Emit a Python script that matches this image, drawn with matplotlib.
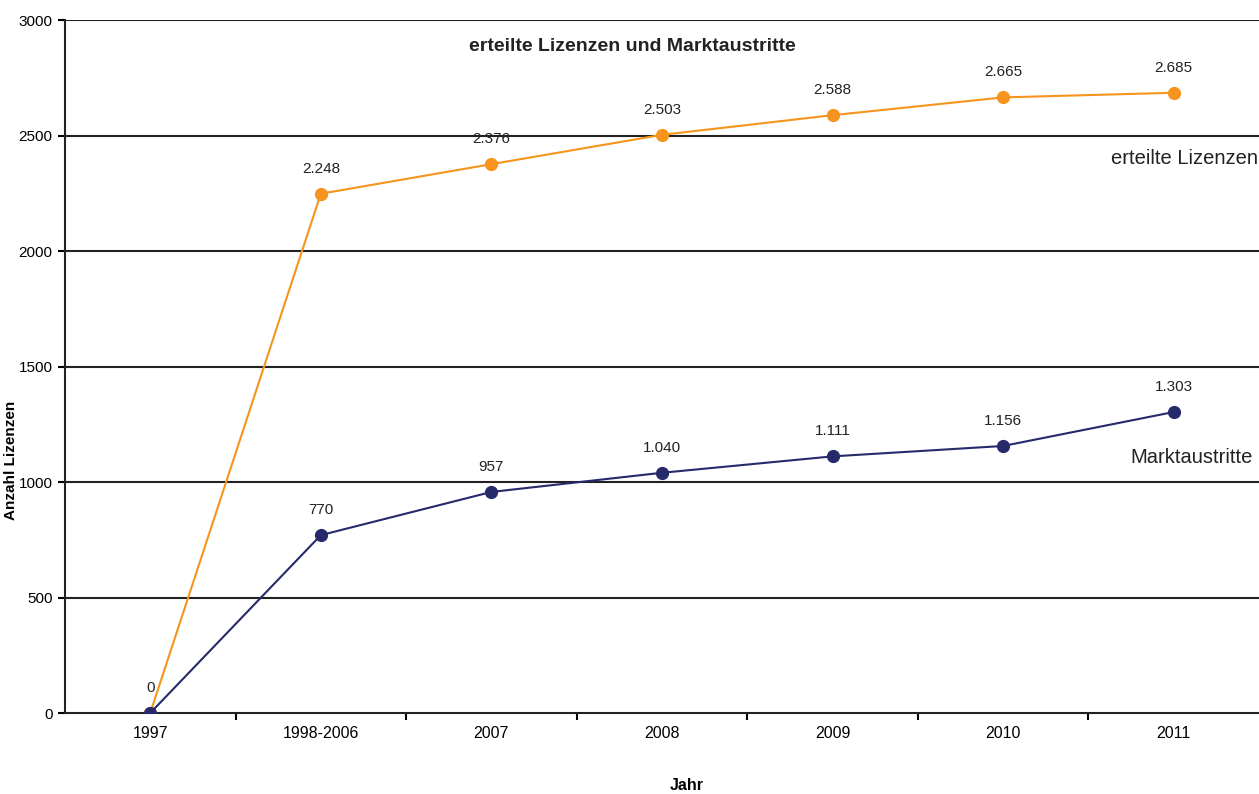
import matplotlib.pyplot as plt
import numpy as np

jahre = ['1997', '1998-2006', '2007', '2008', '2009', '2010', '2011']
lizenzen = [0, 2248, 2376, 2503, 2588, 2665, 2685]
austritte = [0, 770, 957, 1040, 1111, 1156, 1303]

orange = '#F7941D'
navy = '#262A6B'


def fmt(v):
    return f'{v:,}'.replace(',', '.')


plt.rcParams['font.family'] = ['Liberation Sans', 'DejaVu Sans']
fig = plt.figure(figsize=(12.59, 7.94), dpi=100)
ax = fig.add_axes([0.0516, 0.102, 0.9484, 0.8728])

x = np.arange(len(jahre))
for v in [500, 1000, 1500, 2000, 2500, 3000]:
    ax.axhline(v, color='#222222', lw=1.5, zorder=1)

ax.plot(x, lizenzen, color=orange, lw=1.5, marker='o', ms=8.5, zorder=3)
ax.plot(x, austritte, color=navy, lw=1.5, marker='o', ms=8.5, zorder=4)

for xi, v in zip(x, lizenzen):
    if v > 0:
        ax.annotate(fmt(v), (xi, v), xytext=(0, 18), textcoords='offset points',
                    ha='center', va='center', fontsize=11, color='#222222')
for xi, v in zip(x, austritte):
    ax.annotate(fmt(v), (xi, v), xytext=(0, 18), textcoords='offset points',
                ha='center', va='center', fontsize=11, color='#222222')

ax.text(0.9995, 2400, 'erteilte Lizenzen', transform=ax.get_yaxis_transform(),
        ha='right', va='center', fontsize=14.5, color='#222222')
ax.text(0.9945, 1105, 'Marktaustritte', transform=ax.get_yaxis_transform(),
        ha='right', va='center', fontsize=14.5, color='#222222')
ax.text(0.475, 0.962, 'erteilte Lizenzen und Marktaustritte', transform=ax.transAxes,
        ha='center', va='center', fontsize=14, fontweight='bold', color='#222222')

ax.set_xlim(-0.5, 6.5)
ax.set_ylim(0, 3000)
ax.set_yticks(range(0, 3001, 500))
ax.set_xticks(x)
ax.set_xticklabels(jahre, fontsize=11.5)
ax.set_xticks(np.arange(0.5, 6.5, 1), minor=True)
ax.tick_params(axis='x', which='major', length=0, pad=9)
ax.tick_params(axis='x', which='minor', length=5, width=1.5, direction='out')
ax.tick_params(axis='y', length=5, width=1.5, labelsize=11, pad=4)

for s in ['top', 'right']:
    ax.spines[s].set_visible(False)
ax.spines['left'].set_linewidth(1.5)
ax.spines['bottom'].set_linewidth(1.5)
ax.spines['left'].set_color('#222222')
ax.spines['bottom'].set_color('#222222')

fig.text(0.5455, 0.0015, 'Jahr', ha='center', va='bottom', fontsize=11.5, fontweight='bold')
fig.text(0.0085, 0.42, 'Anzahl Lizenzen', ha='center', va='center', rotation=90,
         fontsize=11, fontweight='bold')

fig.savefig('out.png', dpi=100)
